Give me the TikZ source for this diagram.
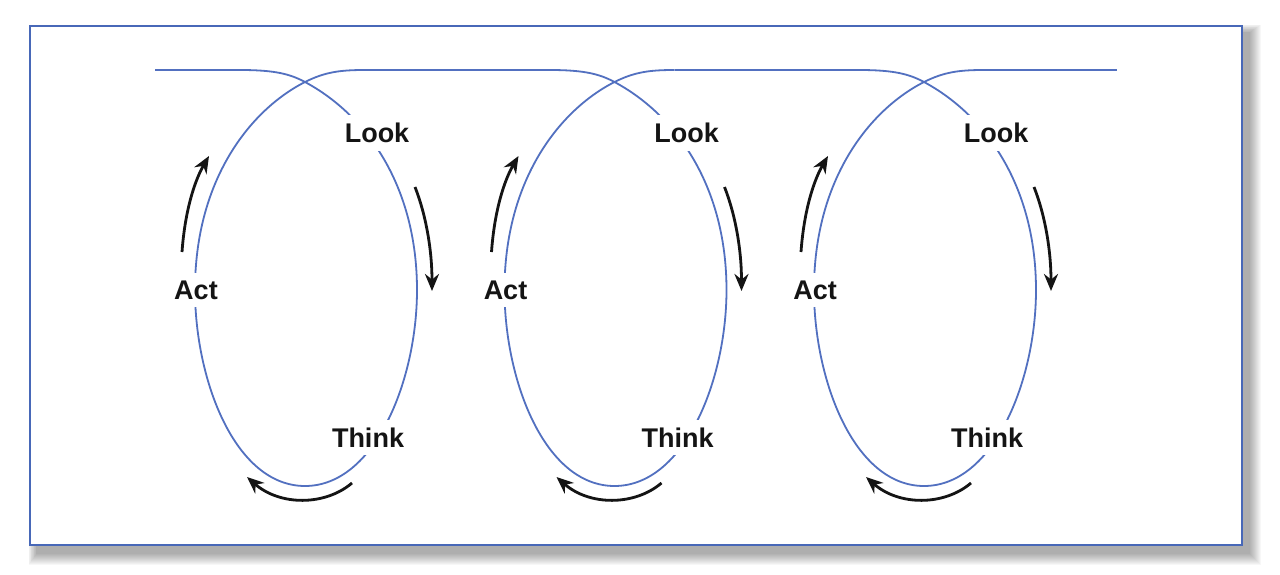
\documentclass[tikz,border=0pt]{standalone}
\usepackage{fontspec}
\setmainfont{Liberation Sans}
\usetikzlibrary{arrows.meta}
\definecolor{loopblue}{RGB}{82,112,192}
\definecolor{frameblue}{RGB}{72,104,184}
\definecolor{arrowblack}{RGB}{20,20,20}
\tikzset{
  curve/.style={draw=loopblue, line width=1.8pt},
  label/.style={fill=white, inner sep=8pt, font=\bfseries\fontsize{27}{30}\selectfont, text=arrowblack},
  flowarrow/.style={draw=arrowblack, line width=2.8pt, -{Stealth[length=17pt,width=14pt]}},
}
\begin{document}
\begin{tikzpicture}[x=1pt,y=-1pt]
\useasboundingbox (0,0) rectangle (1280,575);
% soft shadow
\foreach \i in {1,...,12}{
  \fill[black, opacity=0.03] ({37-\i*0.7},{33-\i*0.7}) rectangle ({1249+\i*1.0},{553+\i*1.0});
}
\fill[white] (30,26) rectangle (1242,545);
\draw[frameblue, line width=2.2pt] (30,26) rectangle (1242,545);
% horizontal pieces
\draw[curve] (155,70) -- (240,70);
\draw[curve] (365,70) -- (549.5,70);
\draw[curve] (674.5,70) -- (859,70);
\draw[curve] (984,70) -- (1117,70);
\foreach \k/\dx in {1/0,2/309.5,3/619}{
  \begin{scope}[xshift=\dx pt]
    \draw[curve] (240,70) .. controls (275,70) and (290,74) .. (305,82)
      .. controls (370,117) and (417,190) .. (417,290)
      .. controls (417,380) and (375,486) .. (305,486)
      .. controls (235,486) and (195,380) .. (195,290)
      .. controls (195,180) and (250,110) .. (305,82)
      .. controls (325,72) and (340,70) .. (365,70);
    \node[label] (look\k) at (377,133) {Look};
    \node[label] (act\k) at (196,290) {Act};
    \node[label] (think\k) at (368,437.5) {Think};
    \draw[flowarrow] (415,187) .. controls (426,215) and (432,250) .. (432,291);
    \draw[flowarrow] (352,483) .. controls (325,506) and (280,506) .. (247,477);
    \draw[flowarrow] (182,252) .. controls (185,210) and (195,180) .. (209,156);
  \end{scope}
}
\end{tikzpicture}
\end{document}
